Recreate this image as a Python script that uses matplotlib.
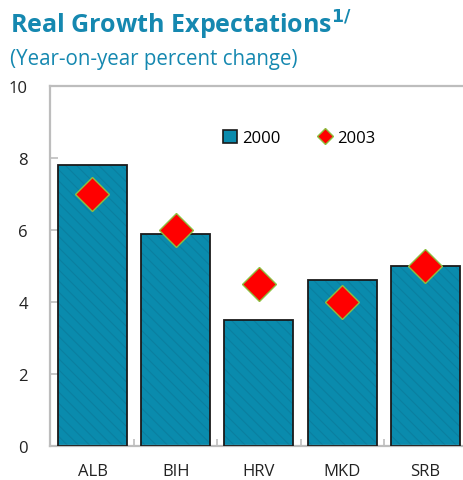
import numpy as np
import matplotlib.pyplot as plt
from matplotlib.lines import Line2D
from matplotlib.patches import Patch

# Data
countries = ['ALB', 'BIH', 'HRV', 'MKD', 'SRB']
growth_2000 = [7.8, 5.9, 3.5, 4.6, 5.0]
growth_2003 = [7.0, 6.0, 4.5, 4.0, 5.0]
yticks = [0, 2, 4, 6, 8, 10]

teal = '#0A8BAD'
title_blue = '#1588B0'
gray = '#BDBDBD'

plt.rcParams['font.family'] = ['Open Sans', 'DejaVu Sans']
plt.rcParams['hatch.linewidth'] = 0.8

fig = plt.figure(figsize=(4.63, 4.81), dpi=100)
ax = fig.add_axes([50/463, 1 - 447/481, 1 - 50/463 + 0.005, (447 - 87)/481])

x = np.arange(len(countries))
# fill with subtle diagonal stripes, then outline
ax.bar(x, growth_2000, width=0.83, color=teal, edgecolor='#0A7FA0',
       hatch='\\\\\\', linewidth=0, zorder=2)
ax.bar(x, growth_2000, width=0.83, fill=False, edgecolor='#1a1a1a',
       linewidth=1.3, zorder=3)
ax.plot(x, growth_2003, linestyle='none', marker='D', markersize=17,
        markerfacecolor='#FF0000', markeredgecolor='#8DBF3F',
        markeredgewidth=1.0, zorder=4)

ax.set_xlim(-0.51, 4.48)
ax.set_ylim(0, 10)
ax.set_yticks(yticks)
ax.set_yticklabels([str(t) for t in yticks], fontsize=12, color='#222222')
ax.tick_params(axis='y', direction='in', length=6, width=1.2, color=gray, pad=16)
ax.set_xticks(x)
ax.set_xticklabels(countries, fontsize=12, color='#222222')
ax.tick_params(axis='x', length=0, pad=12)
# minor ticks between categories on the bottom axis
ax.set_xticks(x[:-1] + 0.5, minor=True)
ax.tick_params(axis='x', which='minor', direction='in', length=5, width=1.2, color=gray)

for side in ['left', 'top', 'bottom']:
    ax.spines[side].set_color(gray)
    ax.spines[side].set_linewidth(1.6)
ax.spines['right'].set_visible(False)

handles = [Patch(facecolor=teal, edgecolor='#1a1a1a', linewidth=1.2, label='2000'),
           Line2D([], [], linestyle='none', marker='D', markersize=8,
                  markerfacecolor='#FF0000', markeredgecolor='#8DBF3F', label='2003')]
ax.legend(handles=handles, loc='center', bbox_to_anchor=(0.6, 0.855), ncol=2,
          frameon=False, fontsize=12, handlelength=0.8, handleheight=0.8,
          handletextpad=0.3, columnspacing=2.3)

fig.text(10/463, 1 - 25/481, r'Real Growth Expectations$^{\mathbf{1/}}$', fontsize=18,
         fontweight='bold', color=title_blue, va='center', ha='left')
fig.text(10/463, 1 - 60/481, '(Year-on-year percent change)', fontsize=14.8,
         color=title_blue, va='center', ha='left')

fig.savefig('out.png', dpi=100)
